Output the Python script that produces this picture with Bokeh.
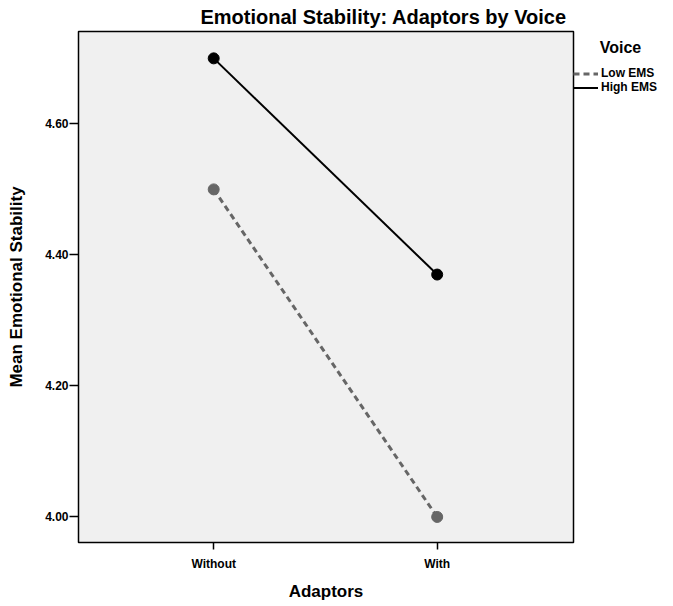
from bokeh.plotting import figure
from bokeh.models import FixedTicker, Legend, LegendItem, Range1d
from bokeh.embed import file_html
from bokeh.resources import INLINE

categories = ["Without", "With"]
low_ems = [4.50, 4.00]
high_ems = [4.70, 4.37]
y_ticks = [4.00, 4.20, 4.40, 4.60]
series_names = ["Low EMS", "High EMS"]
legend_title = "Voice"

FONT = "Liberation Sans"
xs = list(range(len(categories)))

p = figure(output_backend="svg", toolbar_location=None,
           x_range=Range1d(-0.605, 1.61), y_range=Range1d(3.961, 4.741),
           frame_width=495, frame_height=511,
           min_border_left=78, min_border_right=84, min_border_top=29, min_border_bottom=50)

p.background_fill_color = "#f0f0f0"
p.border_fill_color = "white"
p.outline_line_color = "black"
p.outline_line_width = 1.5
p.grid.visible = False

p.title.text = "Emotional Stability: Adaptors by Voice"
p.title.text_font = FONT
p.title.text_font_size = "20px"
p.title.text_font_style = "bold"
p.title.text_color = "black"
p.title.align = "left"
p.title.offset = 122
p.title.standoff = 7

# axes
p.xaxis.ticker = FixedTicker(ticks=xs)
p.xaxis.major_label_overrides = {i: c for i, c in enumerate(categories)}
p.yaxis.ticker = FixedTicker(ticks=y_ticks)
p.yaxis.major_label_overrides = {t: f"{t:.2f}" for t in y_ticks}
for ax in (p.xaxis, p.yaxis):
    ax.axis_line_color = None
    ax.major_tick_line_color = "black"
    ax.major_tick_line_width = 1.5
    ax.major_tick_in = 0
    ax.minor_tick_line_color = None
    ax.major_label_text_font = FONT
    ax.major_label_text_font_size = "12px"
    ax.major_label_text_font_style = "bold"
    ax.major_label_text_color = "black"
    ax.axis_label_text_font = FONT
    ax.axis_label_text_font_size = "17px"
    ax.axis_label_text_font_style = "bold"
    ax.axis_label_text_color = "black"
p.xaxis.major_tick_out = 7
p.yaxis.major_tick_out = 9
p.yaxis.major_label_standoff = 1
p.xaxis.major_label_standoff = 7
p.xaxis.axis_label = "Adaptors"
p.yaxis.axis_label = "Mean Emotional Stability"
p.xaxis.axis_label_standoff = 8
p.yaxis.axis_label_standoff = 16

# data
r_low = p.line(xs, low_ems, line_color="#666666", line_width=3, line_dash="6 4")
p.scatter(xs, low_ems, size=11, fill_color="#666666", line_color="#666666")
r_high = p.line(xs, high_ems, line_color="black", line_width=2)
p.scatter(xs, high_ems, size=11, fill_color="black", line_color="black")

legend = Legend(items=[LegendItem(label=series_names[0], renderers=[r_low]),
                       LegendItem(label=series_names[1], renderers=[r_high])],
                location=(0, 448), orientation="vertical",
                title="\u00a0" * 6 + legend_title,
                title_text_font=FONT, title_text_font_size="16px",
                title_text_font_style="bold", title_text_color="black",
                title_standoff=9,
                background_fill_alpha=0, border_line_color=None,
                padding=0, spacing=0, margin=0,
                glyph_width=25, glyph_height=13, label_standoff=3,
                label_text_font=FONT, label_text_font_size="12px",
                label_text_font_style="bold", label_text_color="black",
                label_height=13)
p.add_layout(legend, "right")

open("out.html", "w").write(file_html(p, INLINE))
